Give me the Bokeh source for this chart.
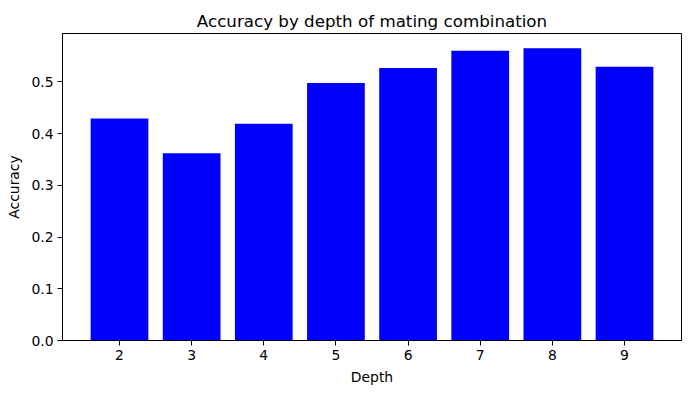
from bokeh.plotting import figure
from bokeh.models import Range1d, FixedTicker, PrintfTickFormatter, ColumnDataSource
from bokeh.embed import file_html
from bokeh.resources import INLINE

depths = [2, 3, 4, 5, 6, 7, 8, 9]
accuracy = [0.429, 0.362, 0.419, 0.498, 0.527, 0.560, 0.565, 0.529]
y_ticks = [0.0, 0.1, 0.2, 0.3, 0.4, 0.5]

FONT = "DejaVu Sans"

src = ColumnDataSource(dict(x=depths, top=accuracy))

p = figure(width=691, height=393, output_backend="svg", toolbar_location=None,
           x_range=Range1d(1.21, 9.79), y_range=Range1d(0, 0.5935),
           title="Accuracy by depth of mating combination",
           min_border_left=62, min_border_right=10, min_border_top=33, min_border_bottom=53)

p.vbar(x="x", top="top", width=0.8, source=src, color="blue", line_color=None)

p.title.text_font = FONT
p.title.text_font_size = "16.7px"
p.title.text_font_style = "normal"
p.title.text_color = "black"
p.title.align = "center"
p.title.offset = 0
p.title.standoff = 6

p.xgrid.visible = False
p.ygrid.visible = False
p.outline_line_color = "black"
p.outline_line_alpha = 1
p.outline_line_width = 1
p.background_fill_color = "white"
p.border_fill_color = "white"

p.xaxis.ticker = FixedTicker(ticks=depths)
p.yaxis.ticker = FixedTicker(ticks=y_ticks)
p.yaxis.formatter = PrintfTickFormatter(format="%.1f")
p.xaxis.axis_label = "Depth"
p.yaxis.axis_label = "Accuracy"

for ax in (p.xaxis, p.yaxis):
    ax.axis_line_color = "black"
    ax.major_tick_line_color = "black"
    ax.major_tick_in = 0
    ax.major_tick_out = 5
    ax.minor_tick_line_color = None
    ax.major_label_text_font = FONT
    ax.major_label_text_font_size = "13.9px"
    ax.major_label_text_color = "black"
    ax.axis_label_text_font = FONT
    ax.axis_label_text_font_size = "13.9px"
    ax.axis_label_text_font_style = "normal"
    ax.axis_label_text_color = "black"
    ax.major_label_standoff = 4
    ax.axis_label_standoff = 6

open("out.html", "w").write(file_html(p, INLINE))
